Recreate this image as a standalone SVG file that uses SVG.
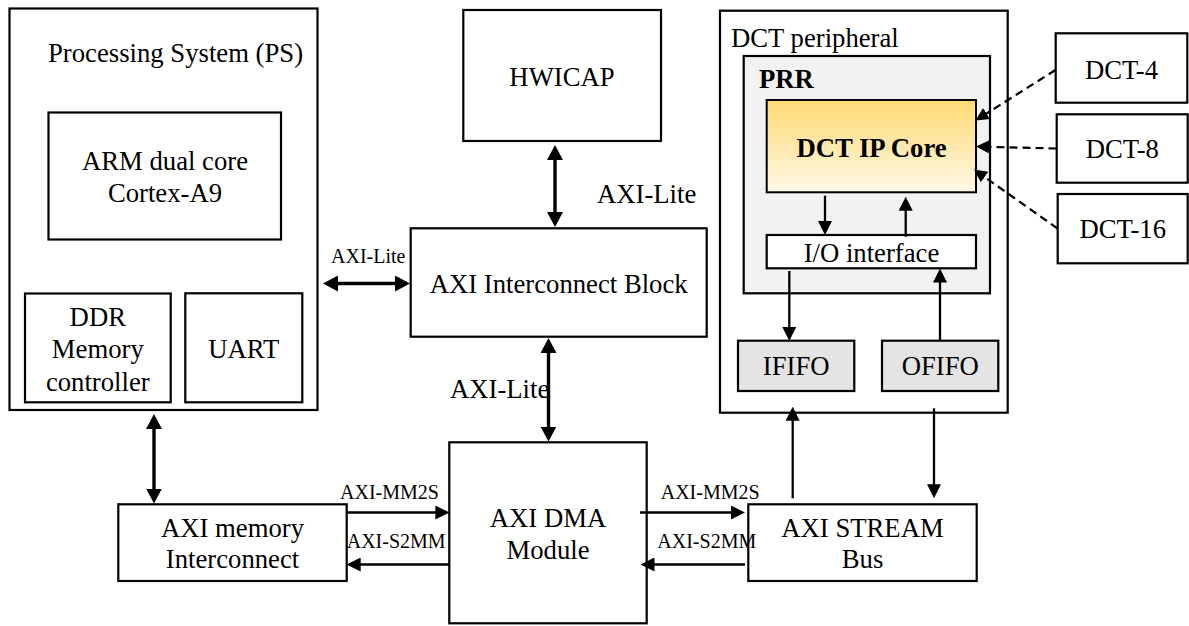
<svg xmlns="http://www.w3.org/2000/svg" width="1189" height="626" viewBox="0 0 1189 626">
<style>
.box{fill:#fff;stroke:#000;stroke-width:2.2}
.prr{fill:#f2f2f2;stroke:#000;stroke-width:2.2}
.fifo{fill:#e4e4e4;stroke:#000;stroke-width:2.2}
.core{fill:url(#coreGrad);stroke:#000;stroke-width:2}
text{font-family:"Liberation Serif","Times New Roman",serif;font-size:26.7px;fill:#000}
.c{text-anchor:middle}
.s{font-size:20px}
.b{font-weight:bold}
.thick{stroke:#000;stroke-width:3.4;fill:none;marker-start:url(#ah);marker-end:url(#ah)}
.thin{stroke:#000;stroke-width:2.3;fill:none;marker-end:url(#at)}
.dash{stroke:#000;stroke-width:2.2;fill:none;stroke-dasharray:8 5;marker-end:url(#ad)}
</style>
<defs>
<linearGradient id="coreGrad" x1="0" y1="0" x2="0" y2="1">
<stop offset="0" stop-color="#ffd972"/>
<stop offset="1" stop-color="#fff8e8"/>
</linearGradient>
<marker id="ah" viewBox="0 0 15 16" refX="11" refY="8" markerWidth="15" markerHeight="16" markerUnits="userSpaceOnUse" orient="auto-start-reverse">
<path d="M0,0 L15,8 L0,16 z" fill="#000"/>
</marker>
<marker id="at" viewBox="0 0 14 14" refX="11" refY="7" markerWidth="14" markerHeight="14" markerUnits="userSpaceOnUse" orient="auto">
<path d="M0,0 L14,7 L0,14 z" fill="#000"/>
</marker>
<marker id="ad" viewBox="0 0 13 13" refX="11" refY="6.5" markerWidth="13" markerHeight="13" markerUnits="userSpaceOnUse" orient="auto">
<path d="M0,0 L13,6.5 L0,13 z" fill="#000"/>
</marker>
</defs>

<g id="ps">
<rect class="box" x="9.5" y="8.5" width="308" height="401.5"/>
<text x="48" y="62">Processing System (PS)</text>
</g>
<g id="arm">
<rect class="box" x="48.5" y="112.5" width="232.5" height="127"/>
<text class="c" x="165" y="170">ARM dual core</text>
<text class="c" x="165" y="201.7">Cortex-A9</text>
</g>
<g id="ddr">
<rect class="box" x="25" y="293.5" width="145.7" height="108.8"/>
<text class="c" x="97.8" y="326">DDR</text>
<text class="c" x="97.8" y="358">Memory</text>
<text class="c" x="97.8" y="390.7">controller</text>
</g>
<g id="uart">
<rect class="box" x="185.3" y="293.3" width="117" height="109"/>
<text class="c" x="243.8" y="357.7">UART</text>
</g>
<g id="hwicap">
<rect class="box" x="463.3" y="10" width="197.7" height="131"/>
<text class="c" x="562" y="86">HWICAP</text>
</g>
<g id="axi-interconnect">
<rect class="box" x="410.7" y="228.3" width="296" height="108.4"/>
<text class="c" x="558.7" y="292.7">AXI Interconnect Block</text>
</g>
<g id="axi-dma">
<rect class="box" x="449.3" y="442.3" width="197.4" height="181"/>
<text class="c" x="548" y="526.7">AXI DMA</text>
<text class="c" x="548" y="559.3">Module</text>
</g>
<g id="axi-mem">
<rect class="box" x="118.3" y="504.3" width="228.4" height="76.7"/>
<text class="c" x="232.5" y="536.7">AXI memory</text>
<text class="c" x="232.5" y="568.3">Interconnect</text>
</g>
<g id="axi-stream">
<rect class="box" x="748.3" y="504.3" width="228.4" height="76.7"/>
<text class="c" x="862.5" y="536.7">AXI STREAM</text>
<text class="c" x="862.5" y="568.3">Bus</text>
</g>
<g id="dct-peripheral">
<rect class="box" x="720" y="10.7" width="287.7" height="402"/>
<text x="731" y="46.7">DCT peripheral</text>
</g>
<g id="prr">
<rect class="prr" x="743.7" y="56" width="246.3" height="237.3"/>
<text class="b" x="759" y="88.3">PRR</text>
</g>
<g id="dct-core">
<rect class="core" x="766.7" y="100" width="209.3" height="92.3"/>
<text class="c b" x="871.5" y="156.7">DCT IP Core</text>
</g>
<g id="io">
<rect class="box" x="766.7" y="235" width="209.3" height="33.3"/>
<text class="c" x="871.5" y="261.7">I/O interface</text>
</g>
<g id="ififo">
<rect class="fifo" x="738" y="340.7" width="116.3" height="50.3"/>
<text class="c" x="796.2" y="375">IFIFO</text>
</g>
<g id="ofifo">
<rect class="fifo" x="882" y="340.7" width="116.3" height="50.3"/>
<text class="c" x="940.2" y="375">OFIFO</text>
</g>
<g id="dct4">
<rect class="box" x="1055.7" y="33.3" width="131.6" height="69.4"/>
<text class="c" x="1121.5" y="79">DCT-4</text>
</g>
<g id="dct8">
<rect class="box" x="1056.7" y="114.3" width="131" height="68.4"/>
<text class="c" x="1122.3" y="158.3">DCT-8</text>
</g>
<g id="dct16">
<rect class="box" x="1057.7" y="194" width="130" height="69.3"/>
<text class="c" x="1122.8" y="238.3">DCT-16</text>
</g>

<g id="connectors">
<line class="thick" x1="555" y1="149" x2="555" y2="223"/>
<line class="thick" x1="548.5" y1="342" x2="548.5" y2="437.5"/>
<line class="thick" x1="154" y1="418" x2="154" y2="499.5"/>
<line class="thick" x1="327" y1="283.5" x2="406" y2="283.5"/>

<line class="thin" x1="346.7" y1="512.5" x2="446.3" y2="512.5"/>
<line class="thin" x1="449.3" y1="564.5" x2="349.7" y2="564.5"/>
<line class="thin" x1="640" y1="512.5" x2="742" y2="512.5"/>
<line class="thin" x1="745" y1="564.5" x2="643.5" y2="564.5"/>
<line class="thin" x1="792.7" y1="498.3" x2="792.7" y2="409.7"/>
<line class="thin" x1="934" y1="408.3" x2="934" y2="495.3"/>
<line class="thin" x1="825" y1="195.7" x2="825" y2="232"/>
<line class="thin" x1="905.7" y1="236.7" x2="905.7" y2="199.7"/>
<line class="thin" x1="789.3" y1="271" x2="789.3" y2="338"/>
<line class="thin" x1="940" y1="340.7" x2="940" y2="271.5"/>

<line class="dash" x1="1055.5" y1="70" x2="977.2" y2="119.4"/>
<line class="dash" x1="1056.5" y1="148.5" x2="978" y2="146.6"/>
<line class="dash" x1="1057.5" y1="228.5" x2="975.6" y2="170.7"/>

<text class="s" x="331" y="263">AXI-Lite</text>
<text x="597" y="203">AXI-Lite</text>
<text x="450" y="398">AXI-Lite</text>
<text class="s" x="340" y="499">AXI-MM2S</text>
<text class="s" x="346.7" y="547.7">AXI-S2MM</text>
<text class="s" x="660.7" y="499">AXI-MM2S</text>
<text class="s" x="657.3" y="547.7">AXI-S2MM</text>
</g>
</svg>
